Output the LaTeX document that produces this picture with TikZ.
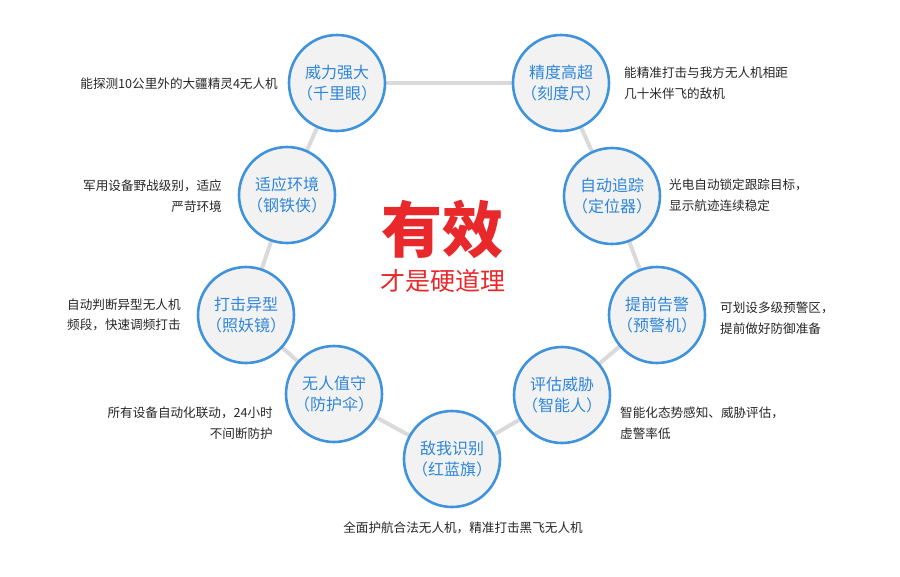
\documentclass[tikz,border=0pt]{standalone}
\usepackage{fontspec}
\usetikzlibrary{backgrounds}
\setmainfont{Noto Sans CJK SC}
\newfontfamily\cjk{Noto Sans CJK SC}
\definecolor{ringblue}{HTML}{3F93DD}
\definecolor{ringtext}{HTML}{2F86D8}
\definecolor{ringfill}{HTML}{F2F2F3}
\definecolor{linkgray}{HTML}{DADADA}
\definecolor{titlered}{HTML}{E8282B}
\definecolor{desctext}{HTML}{262626}
\begin{document}
\begin{tikzpicture}[x=1pt,y=-1pt,
  ring/.style={circle,draw=ringblue,line width=2.6pt,fill=ringfill,minimum size=96pt,inner sep=0pt,
    font=\cjk\fontsize{16}{21}\selectfont,text=ringtext,align=center},
  link/.style={draw=linkgray,line width=4pt},
  desc/.style={font=\cjk\fontsize{12.6}{20.5}\selectfont,text=desctext,inner sep=0pt}]
\useasboundingbox (0,0) rectangle (900,576);
% nodes
\node[ring] (a) at (337,83) {威力强大\\（千里眼）};
\node[ring] (b) at (561,83) {精度高超\\（刻度尺）};
\node[ring] (c) at (287,195) {适应环境\\（钢铁侠）};
\node[ring] (d) at (612,196) {自动追踪\\（定位器）};
\node[ring] (e) at (246,315) {打击异型\\（照妖镜）};
\node[ring] (f) at (657,315) {提前告警\\（预警机）};
\node[ring] (g) at (334,394) {无人值守\\（防护伞）};
\node[ring] (h) at (562,395) {评估威胁\\（智能人）};
\node[ring] (i) at (452,459) {敌我识别\\（红蓝旗）};
% links behind the nodes
\begin{scope}[on background layer]
\foreach \u/\v in {a/b,a/c,c/e,e/g,g/i,i/h,h/f,f/d,d/b}{
  \path[link] (\u.center) -- (\v.center);
}
\end{scope}
% center title
\node[font=\cjk\bfseries\fontsize{61}{64}\selectfont,text=titlered,inner sep=0pt] (t1) at (442,229) {有效};
\node[font=\cjk\fontsize{25}{28}\selectfont,text=titlered,inner sep=0pt] (t2) at (443,281) {才是硬道理};
% descriptions
\node[desc,anchor=east] (da) at (278,84) {能探测10公里外的大疆精灵4无人机};
\node[desc,anchor=east,align=right] (dc) at (222,196) {军用设备野战级别，适应\\严苛环境};
\node[desc,anchor=west,align=left] (de) at (67,315) {自动判断异型无人机\\频段，快速调频打击};
\node[desc,anchor=east,align=right] (dg) at (273,423) {所有设备自动化联动，24小时\\不间断防护};
\node[desc,anchor=west,align=left] (db) at (624,83) {能精准打击与我方无人机相距\\几十米伴飞的敌机};
\node[desc,anchor=west,align=left] (dd) at (669,195) {光电自动锁定跟踪目标，\\显示航迹连续稳定};
\node[desc,anchor=west,align=left] (df) at (720,318) {可划设多级预警区，\\提前做好防御准备};
\node[desc,anchor=west,align=left] (dh) at (620,423) {智能化态势感知、威胁评估，\\虚警率低};
\node[desc] (di) at (463,528) {全面护航合法无人机，精准打击黑飞无人机};
\end{tikzpicture}
\end{document}
